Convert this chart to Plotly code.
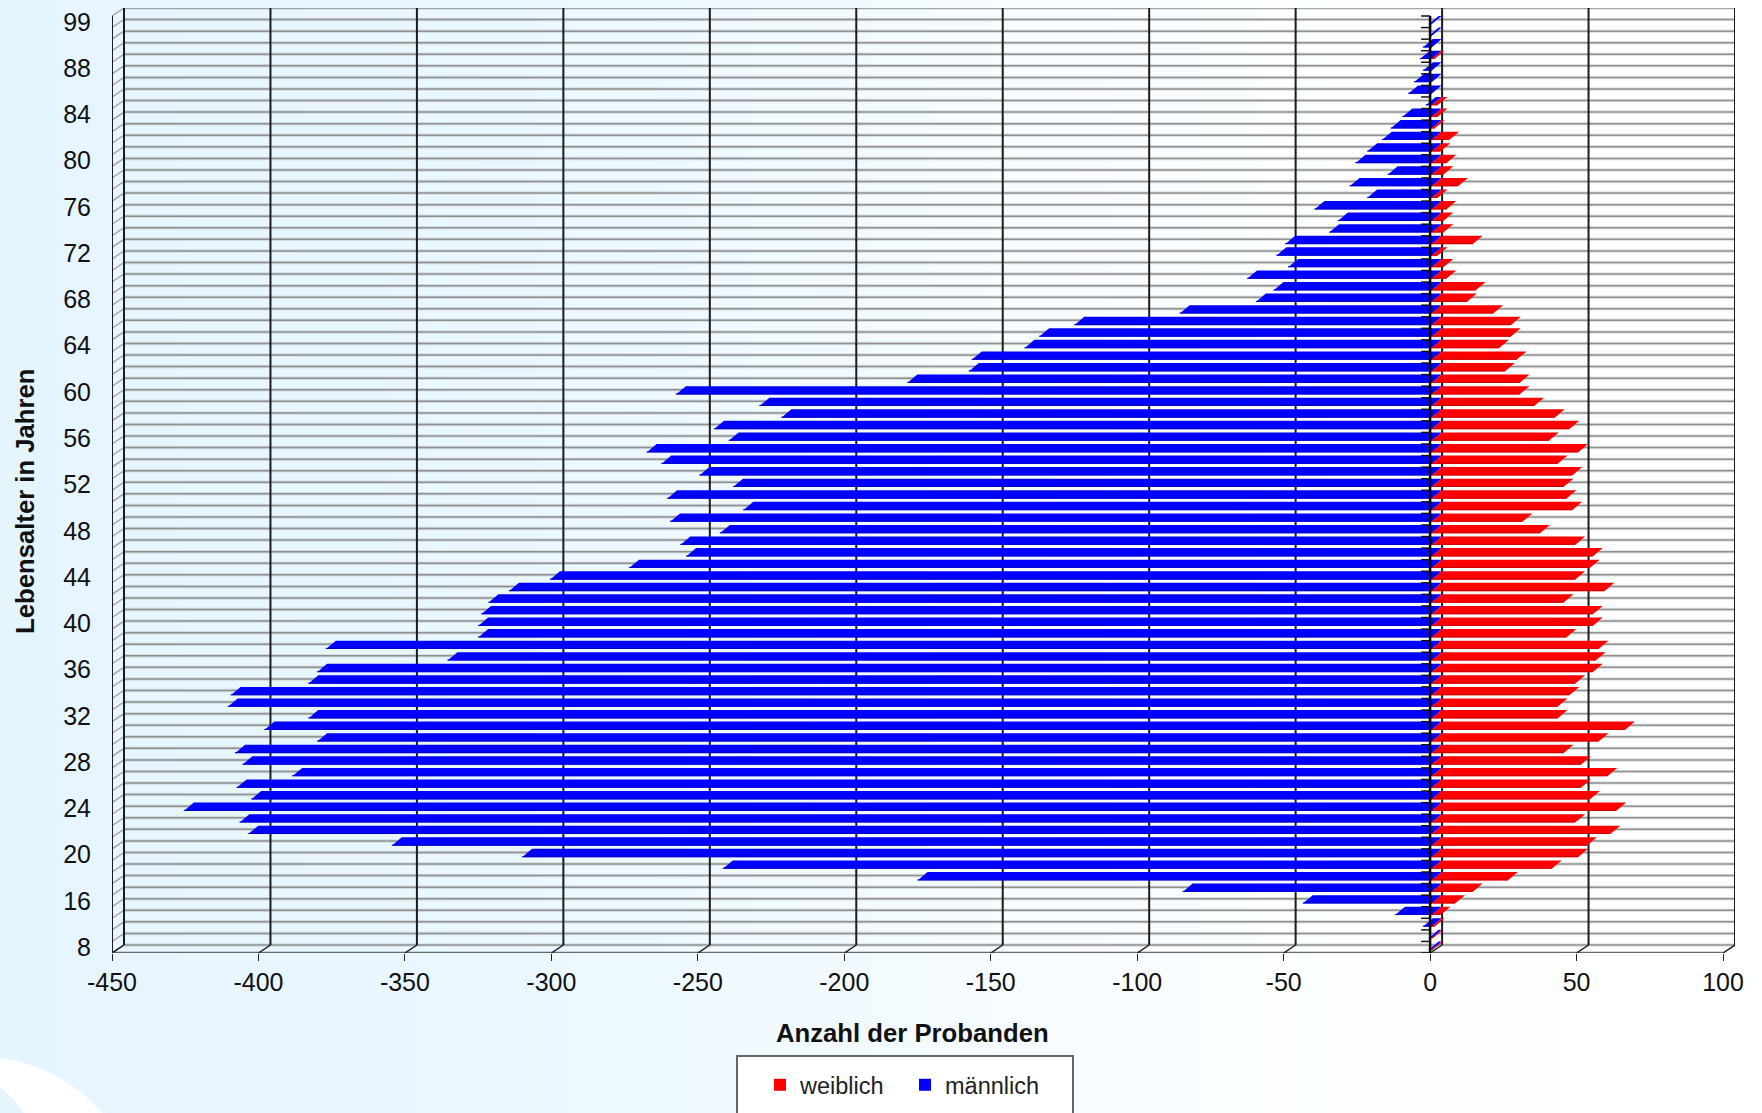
import plotly.graph_objects as go

ages = [8, 12, 13, 15] + list(range(16, 89)) + [89, 90, 92, 99]
male = [-1, -1, -3, -12.5, -44, -85, -175.5, -242, -310.5, -355,
        -404, -407, -426, -403, -408, -389, -406, -408.5, -380.5, -398.5,
        -383.5, -411, -410, -383.5, -380.5, -336, -377.5, -325.5, -325.5, -324.5,
        -322, -315, -301, -274, -254.5, -256.5, -243, -260, -235, -261,
        -238.5, -250, -263, -268, -240, -245, -222, -229.5, -258, -179,
        -158, -157, -139, -134, -122, -86, -60, -54, -63, -49,
        -53, -50, -35, -32, -40, -22, -28, -15, -26, -22,
        -17, -14, -10, -2, -8, -6, -3, -4, -3, -1, -1]
female = [0.5, 0.5, 1, 3, 8, 14, 26, 41, 50, 53,
          61, 49, 63, 54, 51, 60, 51, 45, 57, 66,
          43, 43, 47, 49, 55, 56, 57, 46, 55, 55,
          45, 59, 49, 54, 55, 49, 37, 31, 48, 46,
          45, 48, 43, 50, 40, 47, 42, 35, 30, 30,
          25, 29, 23, 27, 27, 21, 12, 15, 5, 4,
          2, 14, 4, 4, 5, 2, 9, 4, 5, 3,
          6, 1, 2, 2, 0, 0, 0, 1, 0, 0, 0]
x_ticks = [-450, -400, -350, -300, -250, -200, -150, -100, -50, 0, 50, 100]

W, H = 1762, 1113
PX_X = (1722.5 - 112) / 550   # pixels per person
PX_Y = (953 - 16) / len(ages) # pixels per row
DX = 12 / PX_X                # depth of the 3-D box in axis units
DY = 8 / PX_Y
n = len(ages)

def px(fx):
    return fx / PX_X
def py(fy):
    return fy / PX_Y

def bars(values):
    xs, ys = [], []
    x0, x1 = px(1.5), px(11.5)
    y0, y1 = py(3.2), py(11.6)
    for i, v in enumerate(values):
        xs += [x0, v + x0, v + x1, x1, x0, None]
        ys += [i + y0, i + y0, i + y1, i + y1, i + y0, None]
    return xs, ys

def edges(values):
    xs, ys = [], []
    for i, v in enumerate(values):
        xs += [px(1.5), v + px(1.5), None]
        ys += [i + py(3.8), i + py(3.8), None]
    return xs, ys

def segs(items):
    xs, ys = [], []
    for (a, b, c, d) in items:
        xs += [a, c, None]
        ys += [b, d, None]
    return xs, ys

def line(items, color, width):
    xs, ys = segs(items)
    return go.Scatter(x=xs, y=ys, mode="lines", line=dict(color=color, width=width),
                      hoverinfo="skip", showlegend=False, cliponaxis=False)

fig = go.Figure()

back_h = [(-450 + DX, r + DY, 100 + DX, r + DY) for r in range(n + 1)]
wall = [(-450, r, -450 + DX, r + DY) for r in range(n + 1)]
fig.add_trace(line(back_h, "rgba(150,150,150,0.28)", 3.5))
fig.add_trace(line(back_h, "#909090", 1.5))
fig.add_trace(line(wall, "#a0a0a0", 1.3))
fig.add_trace(line([(-450, 0, 100, 0)], "#6a6a6a", 2.5))
fig.add_trace(line([(t + DX, DY, t + DX, n + DY) for t in x_ticks], "#1c1c1c", 2))
fig.add_trace(line([(t, 0, t + DX, DY) for t in x_ticks], "#1c1c1c", 1.5))
fig.add_trace(line([(-450, 0, -450, n)], "#1c1c1c", 2))

bx, by = bars(male)
fig.add_trace(go.Scatter(x=bx, y=by, mode="lines", fill="toself", fillcolor="#0000ff",
                         line=dict(width=0, color="#0000ff"), hoverinfo="skip",
                         showlegend=False, cliponaxis=False))
ex, ey = edges(male)
fig.add_trace(go.Scatter(x=ex, y=ey, mode="lines", line=dict(width=1, color="#0000c8"),
                         hoverinfo="skip", showlegend=False, cliponaxis=False))
rx, ry = bars(female)
fig.add_trace(go.Scatter(x=rx, y=ry, mode="lines", fill="toself", fillcolor="#ff0000",
                         line=dict(width=0, color="#ff0000"), hoverinfo="skip",
                         showlegend=False, cliponaxis=False))
ex, ey = edges(female)
fig.add_trace(go.Scatter(x=ex, y=ey, mode="lines", line=dict(width=1, color="#c80000"),
                         hoverinfo="skip", showlegend=False, cliponaxis=False))

fig.add_trace(line([(0, r, -px(9), r) for r in range(n + 1)], "#111111", 1.5))
fig.add_trace(line([(0, 0, 0, n)], "#000000", 2.5))

fig.add_trace(go.Scatter(x=[None], y=[None], mode="markers", name="weiblich",
                         marker=dict(symbol="square", size=12, color="#ff0000")))
fig.add_trace(go.Scatter(x=[None], y=[None], mode="markers", name="männlich",
                         marker=dict(symbol="square", size=12, color="#0000ff")))

# page background: soft left-to-right gradient
stops = [(0, (229, 245, 255)), (370, (232, 246, 255)), (700, (239, 249, 255)),
         (1060, (248, 252, 255)), (1350, (253, 255, 255)), (W, (254, 255, 255))]
def col(x):
    for (a, ca), (b, cb) in zip(stops, stops[1:]):
        if x <= b:
            t = (x - a) / (b - a)
            return "rgb(%d,%d,%d)" % tuple(round(p + (q - p) * t) for p, q in zip(ca, cb))
    return "rgb(254,255,255)"

shapes = []
for k in range(0, W, 30):
    shapes.append(dict(type="rect", xref="paper", yref="paper", x0=k / W, x1=1, y0=0, y1=1,
                       fillcolor=col(k + 15), line=dict(width=0), layer="below"))

def P(x, y):
    return "%.5f %.5f" % (x / W, 1 - y / H)
shapes.append(dict(type="path", xref="paper", yref="paper", layer="below",
                   path=f"M {P(0,1058)} Q {P(60,1066)} {P(103,1113)} L {P(24,1113)} Q {P(13,1098)} {P(0,1087)} Z",
                   fillcolor="#ffffff", line=dict(width=0)))
shapes.append(dict(type="rect", xref="paper", yref="paper", layer="below",
                   x0=737 / W, x1=1073 / W, y0=1 - 1125 / H, y1=1 - 1056 / H,
                   fillcolor="#ffffff", line=dict(color="#666666", width=2)))

FONT = "Liberation Sans"
fig.update_layout(
    width=W, height=H, autosize=False,
    margin=dict(l=0, r=0, t=0, b=0, autoexpand=False),
    paper_bgcolor="rgba(0,0,0,0)", plot_bgcolor="rgba(0,0,0,0)",
    font=dict(family=FONT, size=25, color="#111111"),
    shapes=shapes,
    xaxis=dict(domain=[112 / W, 1735 / W], range=[-450, 100 + DX], tickmode="array", automargin=False,
               tickvals=x_ticks, ticktext=[str(t) for t in x_ticks], ticks="outside",
               ticklen=7, tickwidth=1, tickcolor="#222222", showgrid=False, zeroline=False,
               showline=False, tickfont=dict(family=FONT, size=25, color="#111111")),
    yaxis=dict(domain=[1 - 953 / H, 1 - 8 / H], range=[0, n + DY], tickmode="array", automargin=False,
               tickvals=[i + 0.5 for i in range(0, n, 4)],
               ticktext=[str(ages[i]) for i in range(0, n, 4)], ticks="", showgrid=False,
               zeroline=False, showline=False, ticklabelstandoff=20,
               tickfont=dict(family=FONT, size=25, color="#111111")),
    legend=dict(orientation="h", x=760 / W, y=1 - 1063 / H, xanchor="left", yanchor="top",
                bgcolor="rgba(0,0,0,0)", borderwidth=0, traceorder="normal",
                entrywidth=100, entrywidthmode="pixels",
                font=dict(family=FONT, size=23.5, color="#222222")),
    annotations=[
        dict(text="<b>Anzahl der Probanden</b>", xref="paper", yref="paper", x=912 / W,
             y=1 - 1033 / H, xanchor="center", yanchor="middle", showarrow=False,
             font=dict(family=FONT, size=25.7, color="#111111")),
        dict(text="<b>Lebensalter in Jahren</b>", xref="paper", yref="paper", x=25 / W,
             y=1 - 501 / H, xanchor="center", yanchor="middle", showarrow=False, textangle=-90,
             font=dict(family=FONT, size=25.7, color="#111111")),
    ],
)
fig.write_html("out.html", post_script="document.body.style.margin='0';",
               config={"displayModeBar": False})
